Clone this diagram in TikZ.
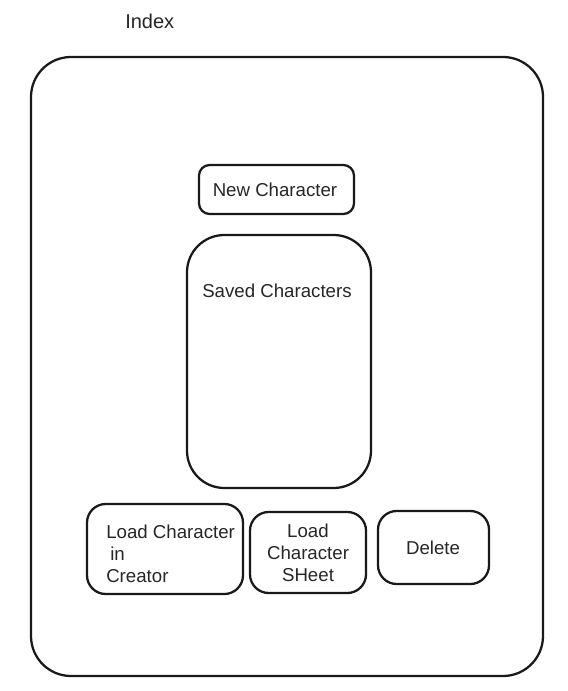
\documentclass[tikz,border=0pt]{standalone}
\usepackage{fontspec}
\setmainfont{Liberation Sans}
\begin{document}
\begin{tikzpicture}[x=0.75pt,y=-0.75pt,
  box/.style={draw=black!90,line width=1.7pt,rounded corners=#1},
  lbl/.style={font=\fontsize{14}{16.5}\selectfont,inner sep=0pt},
  every node/.style={text=black!85}]
\useasboundingbox (0,0) rectangle (567,691);
\node[lbl,anchor=west,font=\fontsize{15}{18}\selectfont] (idx) at (125,21) {Index};
\draw[box=30pt] (31,57) rectangle (543,676);
\draw[box=8pt] (199,165) rectangle (354,214);
\node[lbl] (newc) at (275,190) {New Character};
\draw[box=28pt] (187,235) rectangle (371,488);
\node[lbl,anchor=west] (saved) at (202,291) {Saved Characters};
\draw[box=14pt] (87,504) rectangle (243,594);
\node[lbl,anchor=west] (l1a) at (106,532) {Load Character};
\node[lbl,anchor=west] (l1b) at (110,554) {in};
\node[lbl,anchor=west] (l1c) at (106,576) {Creator};
\draw[box=14pt] (250,512) rectangle (366,593);
\node[lbl,align=center] (l2) at (308,553) {Load\\Character\\SHeet};
\draw[box=14pt] (378,511) rectangle (489,584);
\node[lbl] (del) at (433,548) {Delete};
\end{tikzpicture}
\end{document}
